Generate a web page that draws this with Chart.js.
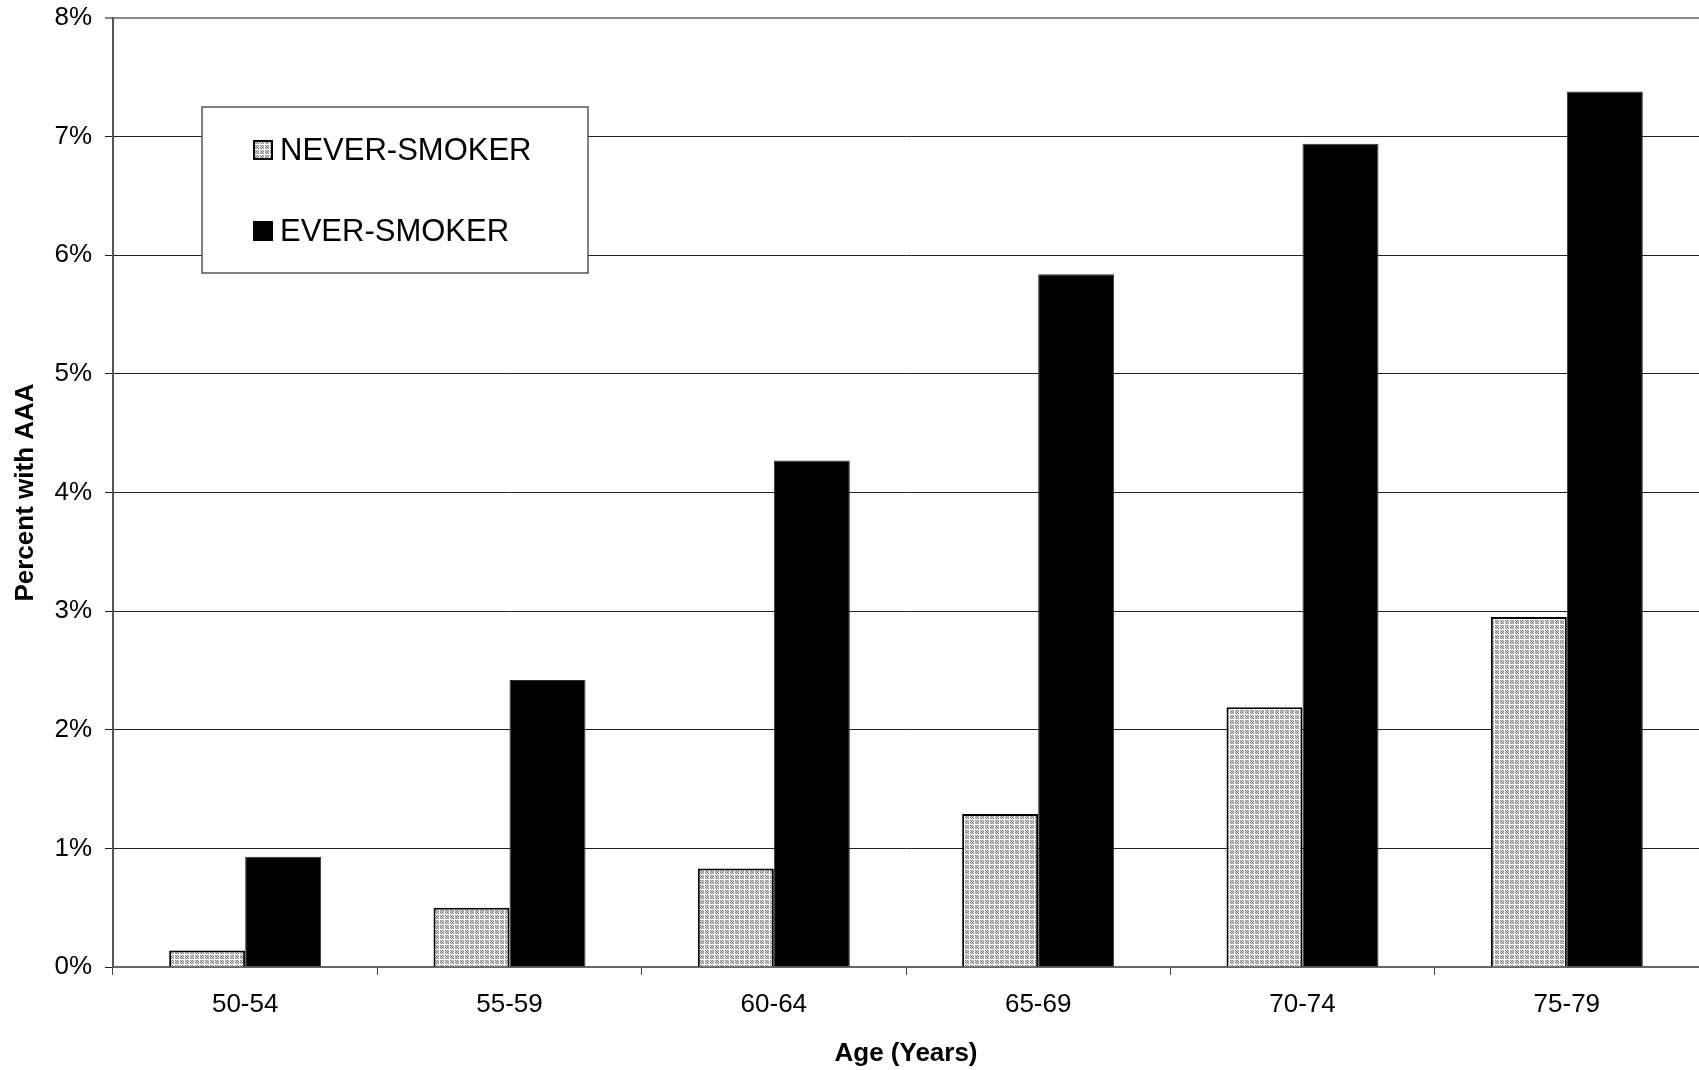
<!DOCTYPE html>
<html lang="en">
<head>
  <meta charset="UTF-8">
  <title>Percent with AAA by age</title>
  <script src="https://cdn.jsdelivr.net/npm/chart.js"></script>
  <style>
    html, body { margin: 0; padding: 0; background: white; }
    #wrap { width: 1699px; height: 1070px; }
  </style>
</head>
<body>
  <div id="wrap"><canvas id="aaaChart" width="1699" height="1070"></canvas></div>
  <script>
    // data (percent with AAA)
    const ageGroups = ['50-54', '55-59', '60-64', '65-69', '70-74', '75-79'];
    const neverSmoker = [0.14, 0.50, 0.83, 1.29, 2.19, 2.95];
    const everSmoker = [0.93, 2.42, 4.27, 5.84, 6.94, 7.38];
    const seriesNames = ['NEVER-SMOKER', 'EVER-SMOKER'];
    const yTicks = [0, 1, 2, 3, 4, 5, 6, 7, 8];

    const FONT = "'Liberation Sans', Arial, sans-serif";

    // stippled grey fill like the old print pattern
    function makeStipple() {
      const c = document.createElement('canvas');
      c.width = 5; c.height = 5;
      const g = c.getContext('2d');
      g.fillStyle = '#d0d0d0';
      g.fillRect(0, 0, 5, 5);
      g.fillStyle = '#888';
      for (let i = 0; i < 4; i++) {
        for (let j = 0; j < 4; j++) {
          if ((i + j) % 2 === 0) g.fillRect(i, j, 1, 1);
        }
      }
      g.fillStyle = '#fff';
      g.fillRect(4, 0, 1, 5);
      g.fillRect(0, 4, 5, 1);
      return document.getElementById('aaaChart').getContext('2d').createPattern(c, 'repeat');
    }
    const stipple = makeStipple();

    const boxLegend = {
      id: 'boxLegend',
      afterDraw(chart) {
        const ctx = chart.ctx;
        ctx.save();
        ctx.fillStyle = 'white';
        ctx.fillRect(202, 107, 386, 166);
        ctx.strokeStyle = '#555';
        ctx.lineWidth = 1.5;
        ctx.strokeRect(202, 107, 386, 166);
        const rows = [150, 231];
        chart.data.datasets.forEach((ds, i) => {
          const y = rows[i];
          ctx.fillStyle = ds.backgroundColor;
          ctx.fillRect(253, y - 10, 20, 20);
          ctx.strokeStyle = '#000';
          ctx.lineWidth = 2;
          ctx.strokeRect(254, y - 9, 18, 18);
          ctx.fillStyle = '#000';
          ctx.font = '31px ' + FONT;
          ctx.textBaseline = 'middle';
          ctx.textAlign = 'left';
          ctx.fillText(ds.label, 280, y + 1);
        });
        ctx.restore();
      }
    };

    const ctx = document.getElementById('aaaChart').getContext('2d');
    new Chart(ctx, {
      type: 'bar',
      data: {
        labels: ageGroups,
        datasets: [
          {
            label: seriesNames[0],
            data: neverSmoker,
            backgroundColor: stipple,
            borderColor: '#000',
            borderWidth: 2,
            categoryPercentage: 0.575,
            barPercentage: 1.0
          },
          {
            label: seriesNames[1],
            data: everSmoker,
            backgroundColor: '#000',
            borderColor: '#333',
            borderWidth: 1,
            categoryPercentage: 0.575,
            barPercentage: 1.0
          }
        ]
      },
      options: {
        responsive: false,
        animation: false,
        layout: { padding: { top: 18, right: 0, left: 0, bottom: 0 } },
        plugins: {
          legend: { display: false },
          tooltip: { enabled: false }
        },
        scales: {
          x: {
            grid: { display: true, drawOnChartArea: false, drawTicks: true, tickLength: 8, color: '#444', lineWidth: 1, offset: true },
            border: { display: true, color: '#666', width: 2 },
            ticks: { color: '#000', font: { family: FONT, size: 26 }, padding: 14, maxRotation: 0 },
            title: { display: true, text: 'Age (Years)', color: '#000', font: { family: FONT, size: 26, weight: 'bold' }, padding: { top: 0, bottom: 1 } },
            afterFit: s => { s.height = 103; s.paddingLeft = 0; s.paddingRight = 0; }
          },
          y: {
            min: 0,
            max: 8,
            afterBuildTicks: s => { s.ticks = yTicks.map(v => ({ value: v })); },
            grid: {
              drawTicks: true,
              tickLength: 8,
              color: c => (c.tick && c.tick.value === 8) ? '#888' : '#222',
              lineWidth: c => (c.tick && c.tick.value === 8) ? 2 : 1
            },
            border: { display: true, color: '#555', width: 2 },
            ticks: { color: '#000', font: { family: FONT, size: 26 }, padding: 13, callback: v => v + '%' },
            title: { display: true, text: 'Percent with AAA', color: '#000', font: { family: FONT, size: 26, weight: 'bold' }, padding: { top: 10, bottom: 0 } },
            afterFit: s => { s.width = 113; s.paddingTop = 0; s.paddingBottom = 0; }
          }
        }
      },
      plugins: [boxLegend]
    });
  </script>
</body>
</html>
